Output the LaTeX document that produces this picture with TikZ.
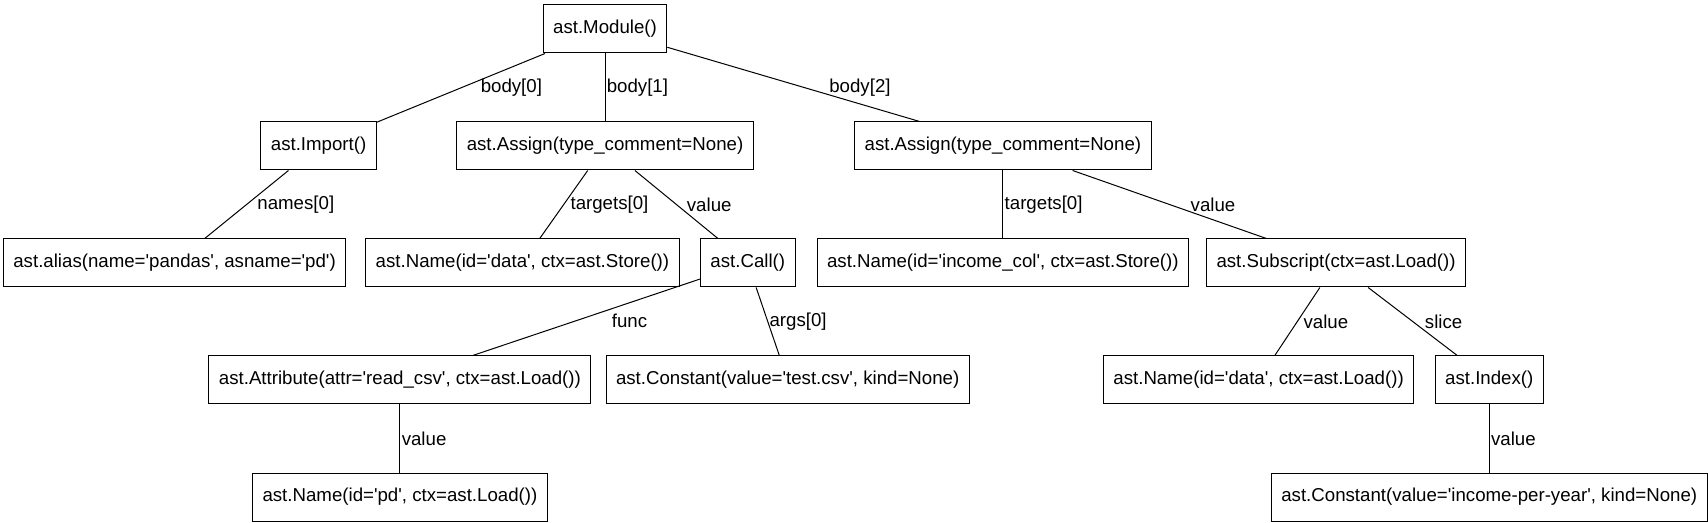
\documentclass[tikz,border=0pt]{standalone}
\usepackage{fontspec}
\newfontfamily\astfont{Liberation Sans}
\usepackage{tikz}
\usetikzlibrary{positioning}

\begin{document}
\begin{tikzpicture}[node distance=51pt and 20pt,line width=.75pt,
    font=\astfont\fontsize{14pt}{16pt}\selectfont,
    astnode/.style={draw,rectangle,minimum height=36pt,inner xsep=7.5pt,inner ysep=2pt},
    elbl/.style={anchor=west,inner sep=1pt,pos=.5}]
    \useasboundingbox (-453.75pt,-370.5pt) rectangle (827.25pt,21.75pt);
    \node[astnode] (mod) {ast.Module()};
    \node[astnode,below=of mod,xshift=-214.8pt] (imp) {ast.Import()};
    \node[astnode,below=of mod] (asgdata) {ast.Assign(type\_comment=None)};
    \node[astnode,below=of mod,xshift=298.4pt] (asgincome) {ast.Assign(type\_comment=None)};
    \node[astnode,below=of imp,xshift=-108pt] (alias) {ast.alias(name='pandas', asname='pd')};
    \node[astnode,below=of asgdata,xshift=-61.9pt] (data) {ast.Name(id='data', ctx=ast.Store())};
    \node[astnode,below=of asgdata,xshift=107.1pt] (call) {ast.Call()};
    \node[astnode,below=of asgincome] (incomecol) {ast.Name(id='income\_col', ctx=ast.Store())};
    \node[astnode,below=of asgincome,xshift=249.9pt] (subs) {ast.Subscript(ctx=ast.Load())};
    \node[astnode,below=of call,xshift=-260.9pt] (attr) {ast.Attribute(attr='read\_csv', ctx=ast.Load())};
    \node[astnode,below=of call,xshift=29.9pt] (csv) {ast.Constant(value='test.csv', kind=None)};
    \node[astnode,below=of subs,xshift=-58.1pt] (dataload) {ast.Name(id='data', ctx=ast.Load())};
    \node[astnode,below=of subs,xshift=114.9pt] (index) {ast.Index()};
    \node[astnode,below=of attr] (pd) {ast.Name(id='pd', ctx=ast.Load())};
    \node[astnode,below=of index] (income) {ast.Constant(value='income-per-year', kind=None)};

    \draw[-] (mod) -- (imp) node[elbl,xshift=13.5pt] {body[0]};
    \draw[-] (mod) -- (asgdata) node[elbl] {body[1]};
    \draw[-] (mod) -- (asgincome) node[elbl,xshift=25.5pt,yshift=-2.25pt] {body[2]};
    \draw[-] (imp) -- (alias) node[elbl,xshift=6.75pt] {names[0]};
    \draw[-] (asgdata) -- (data) node[elbl,xshift=3.75pt] {targets[0]};
    \draw[-] (asgdata) -- (call) node[elbl,xshift=6.5pt] {value};
    \draw[-] (asgincome) -- (incomecol) node[elbl] {targets[0]};
    \draw[-] (asgincome) -- (subs) node[elbl,xshift=14.5pt] {value};
    \draw[-] (call) -- (attr) node[elbl,xshift=17.8pt,yshift=-2.3pt] {func};
    \draw[-] (call) -- (csv) node[elbl] {args[0]};
    \draw[-] (attr) -- (pd) node[elbl] {value};
    \draw[-] (subs) -- (dataload) node[elbl,xshift=3.3pt] {value};
    \draw[-] (subs) -- (index) node[elbl,xshift=7.8pt] {slice};
    \draw[-] (index) -- (income) node[elbl] {value};
\end{tikzpicture}
\end{document}
